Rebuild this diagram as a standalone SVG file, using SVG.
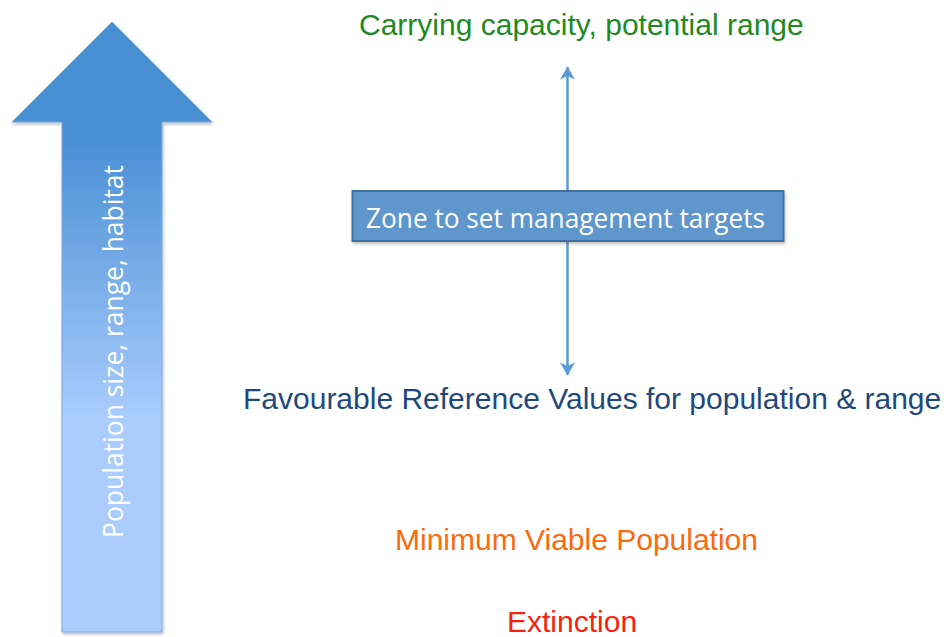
<svg xmlns="http://www.w3.org/2000/svg" width="947" height="637" viewBox="0 0 947 637">
  <style>
    .level { font-family: "Liberation Sans", Arial, sans-serif; font-size: 30px; }
    .inner { font-family: "Open Sans", "Liberation Sans", sans-serif; fill: #ffffff; }
    .connector { stroke: #5b9bd5; stroke-width: 2.5; fill: none; }
  </style>
  <defs>
    <linearGradient id="axisFill" gradientUnits="userSpaceOnUse" x1="0" y1="140" x2="0" y2="420">
      <stop offset="0" stop-color="#4a8fd4"/>
      <stop offset="1" stop-color="#aacdfd"/>
    </linearGradient>
    <!-- arrowhead drawn pointing along +x; tip sits on the line end -->
    <marker id="head" viewBox="0 0 14 16" refX="13" refY="8" markerWidth="14" markerHeight="16" markerUnits="userSpaceOnUse" orient="auto-start-reverse">
      <path d="M13.5 8 L0.5 0.5 L4 8 L0.5 15.5 Z" fill="#5b9bd5"/>
    </marker>
    <filter id="shadow" x="-10%" y="-10%" width="130%" height="130%">
      <feDropShadow dx="1" dy="2" stdDeviation="1.5" flood-color="#000" flood-opacity="0.25"/>
    </filter>
  </defs>

  <!-- Vertical axis arrow: population size, range, habitat -->
  <g id="axis">
    <path d="M112 22 L212 122 L162 122 L162 632 L62 632 L62 122 L12 122 Z" fill="url(#axisFill)" stroke="#7aa7db" stroke-width="1" filter="url(#shadow)"/>
    <text class="inner" font-size="28" transform="translate(123 538) rotate(-90)" textLength="373" lengthAdjust="spacingAndGlyphs">Population size, range, habitat</text>
  </g>

  <!-- Double-headed range connector -->
  <g id="connectors">
    <line class="connector" x1="567.5" y1="67" x2="567.5" y2="375" marker-start="url(#head)" marker-end="url(#head)"/>
  </g>

  <!-- Management zone box -->
  <g id="zone">
    <rect x="352.5" y="191" width="431" height="50" fill="#5e96cc" stroke="#41719c" stroke-width="2" filter="url(#shadow)"/>
    <text class="inner" font-size="28" x="366" y="228" textLength="399" lengthAdjust="spacingAndGlyphs">Zone to set management targets</text>
  </g>

  <!-- Reference levels -->
  <g id="carrying-capacity">
    <text class="level" x="359" y="35" fill="#1f8a1f">Carrying capacity, potential range</text>
  </g>
  <g id="favourable-reference">
    <text class="level" x="243" y="409" fill="#1f497d">Favourable Reference Values for population &amp; range</text>
  </g>
  <g id="minimum-viable">
    <text class="level" x="395" y="550" fill="#f96b0c">Minimum Viable Population</text>
  </g>
  <g id="extinction">
    <text class="level" x="507" y="632" fill="#f5230c">Extinction</text>
  </g>
</svg>
